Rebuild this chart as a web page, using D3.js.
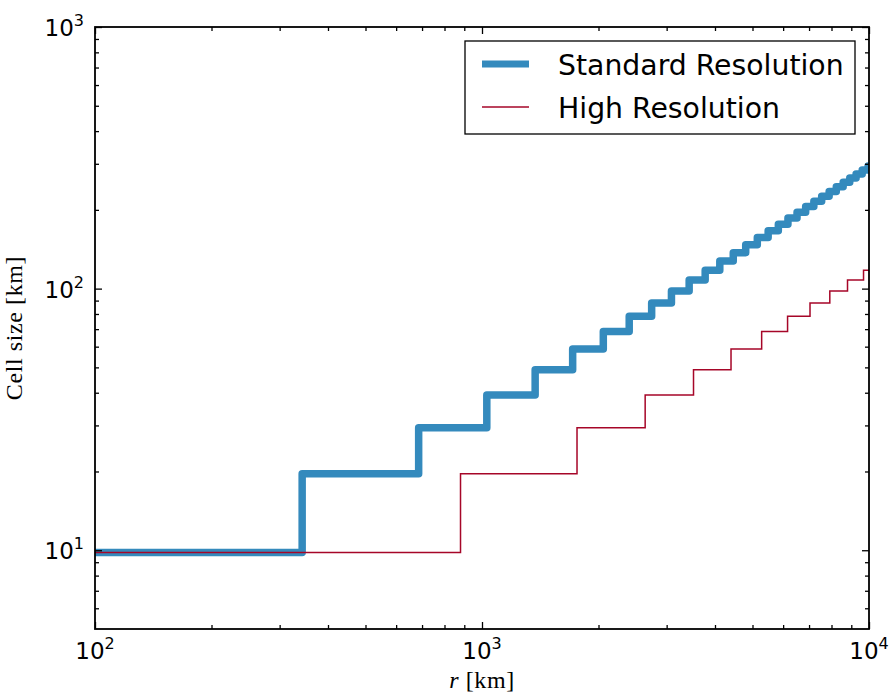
<!DOCTYPE html>
<html>
<head>
<meta charset="utf-8">
<script src="https://cdnjs.cloudflare.com/ajax/libs/d3/7.8.5/d3.min.js"></script>
<style>
  body { margin: 0; background: #fff; }
  svg { display: block; }
</style>
</head>
<body>
<div class="chart"></div>
<script>
var svgWidth = 889;
var svgHeight = 698;

var margin = { top: 27, right: 20, bottom: 69, left: 95 };
var width = 869 - margin.left;
var height = 629 - margin.top;

// data: radius where the cell size steps up, and the cell size on each step
var stdStepR = [343, 686, 1029, 1372, 1715, 2058, 2401, 2744, 3087, 3430, 3773, 4116, 4459, 4802,
  5145, 5488, 5831, 6174, 6517, 6860, 7203, 7546, 7889, 8232, 8575, 8918, 9261, 9604, 9947];
var stdCellSize = [9.8, 19.6, 29.4, 39.2, 49.0, 58.8, 68.6, 78.4, 88.2, 98.0, 107.8, 117.6, 127.4, 137.2,
  147.0, 156.8, 166.6, 176.4, 186.2, 196.0, 205.8, 215.6, 225.4, 235.2, 245.0, 254.8, 264.6, 274.4, 284.2, 294.0];

var highStepR = [880, 1760, 2640, 3520, 4400, 5280, 6160, 7040, 7920, 8800, 9680];
var highCellSize = [9.8, 19.6, 29.4, 39.2, 49.0, 58.8, 68.6, 78.4, 88.2, 98.0, 107.8, 117.6];

var xDomain = [100, 10000];
var yDomain = [5, 1000];
var xMajor = [100, 1000, 10000];
var yMajor = [10, 100, 1000];
var xExp = ["2", "3", "4"];
var yExp = ["1", "2", "3"];
var seriesNames = ["Standard Resolution", "High Resolution"];

var svg = d3.select(".chart")
  .append("svg")
  .attr("width", svgWidth)
  .attr("height", svgHeight);

var chartGroup = svg.append("g")
  .attr("transform", `translate(${margin.left}, ${margin.top})`);

var x = d3.scaleLog().domain(xDomain).range([0, width]);
var y = d3.scaleLog().domain(yDomain).range([height, 0]);

function toPoints(stepR, sizes) {
  var pts = [[xDomain[0], sizes[0]]];
  stepR.forEach(function(r, i) { pts.push([r, sizes[i + 1]]); });
  pts.push([xDomain[1], sizes[sizes.length - 1]]);
  return pts;
}

var line = d3.line()
  .x(d => x(d[0]))
  .y(d => y(d[1]))
  .curve(d3.curveStepAfter);

svg.append("defs").append("clipPath").attr("id", "clip")
  .append("rect").attr("width", width).attr("height", height);

var plot = chartGroup.append("g").attr("clip-path", "url(#clip)");

plot.append("path")
  .datum(toPoints(stdStepR, stdCellSize))
  .attr("d", line)
  .attr("fill", "none")
  .attr("stroke", "#348ABD")
  .attr("stroke-width", 7.5)
  .attr("stroke-linejoin", "round");

plot.append("path")
  .datum(toPoints(highStepR, highCellSize))
  .attr("d", line)
  .attr("fill", "none")
  .attr("stroke", "#A60628")
  .attr("stroke-width", 1.5);

// minor tick values
var xMinor = [];
[100, 1000].forEach(function(b) { for (var k = 2; k <= 9; k++) xMinor.push(b * k); });
var yMinor = [6, 7, 8, 9];
[10, 100].forEach(function(b) { for (var k = 2; k <= 9; k++) yMinor.push(b * k); });

function addAxis(axisFn, scale, values, size, transform) {
  var g = chartGroup.append("g")
    .attr("transform", transform)
    .call(axisFn(scale).tickValues(values).tickSize(size).tickFormat(""));
  g.select(".domain").remove();
  g.selectAll(".tick line").attr("stroke", "#000").attr("stroke-width", 1.3);
  return g;
}

addAxis(d3.axisBottom, x, xMajor, -7, `translate(0, ${height})`);
addAxis(d3.axisBottom, x, xMinor, -4, `translate(0, ${height})`);
addAxis(d3.axisTop, x, xMajor, -7, "translate(0, 0)");
addAxis(d3.axisTop, x, xMinor, -4, "translate(0, 0)");
addAxis(d3.axisLeft, y, yMajor, -7, "translate(0, 0)");
addAxis(d3.axisLeft, y, yMinor, -4, "translate(0, 0)");
addAxis(d3.axisRight, y, yMajor, -7, `translate(${width}, 0)`);
addAxis(d3.axisRight, y, yMinor, -4, `translate(${width}, 0)`);

chartGroup.append("rect")
  .attr("width", width)
  .attr("height", height)
  .attr("fill", "none")
  .attr("stroke", "#000")
  .attr("stroke-width", 1.8);

// tick labels with superscript exponents
var xLabels = chartGroup.selectAll(".xlab")
  .data(xMajor)
  .enter()
  .append("text")
  .attr("class", "xlab")
  .attr("x", d => x(d))
  .attr("y", height + 30)
  .attr("text-anchor", "middle")
  .style("font-family", "DejaVu Sans")
  .style("font-size", "23px");
xLabels.append("tspan").text("10");
xLabels.append("tspan").attr("dy", -10).style("font-size", "16px").text((d, i) => xExp[i]);

var yLabels = chartGroup.selectAll(".ylab")
  .data(yMajor)
  .enter()
  .append("text")
  .attr("class", "ylab")
  .attr("x", -11)
  .attr("y", d => y(d) + 9)
  .attr("text-anchor", "end")
  .style("font-family", "DejaVu Sans")
  .style("font-size", "23px");
yLabels.append("tspan").text("10");
yLabels.append("tspan").attr("dy", -10).style("font-size", "16px").text((d, i) => yExp[i]);

// axis titles
chartGroup.append("text")
  .attr("transform", `translate(${-73}, ${height / 2}) rotate(-90)`)
  .attr("text-anchor", "middle")
  .style("font-family", "Liberation Serif")
  .style("font-size", "24px")
  .style("letter-spacing", "0.6px")
  .text("Cell size [km]");

var xTitle = chartGroup.append("text")
  .attr("x", width / 2)
  .attr("y", height + 59)
  .attr("text-anchor", "middle")
  .style("font-family", "Liberation Serif")
  .style("font-size", "24px")
  .style("letter-spacing", "0.6px");
xTitle.append("tspan").style("font-style", "italic").text("r");
xTitle.append("tspan").text(" [km]");

// legend
var legend = svg.append("g").attr("transform", "translate(465, 41)");
legend.append("rect")
  .attr("width", 390)
  .attr("height", 93)
  .attr("fill", "#fff")
  .attr("stroke", "#000")
  .attr("stroke-width", 1.3);

var legendColors = ["#348ABD", "#A60628"];
var legendWidths = [7, 1.5];
seriesNames.forEach(function(name, i) {
  var yy = 23 + i * 43;
  legend.append("line")
    .attr("x1", 17).attr("x2", 64)
    .attr("y1", yy).attr("y2", yy)
    .attr("stroke", legendColors[i])
    .attr("stroke-width", legendWidths[i]);
  legend.append("text")
    .attr("x", 93)
    .attr("y", yy + 11)
    .style("font-family", "DejaVu Sans")
    .style("font-size", "28.3px")
    .text(name);
});
</script>
</body>
</html>
